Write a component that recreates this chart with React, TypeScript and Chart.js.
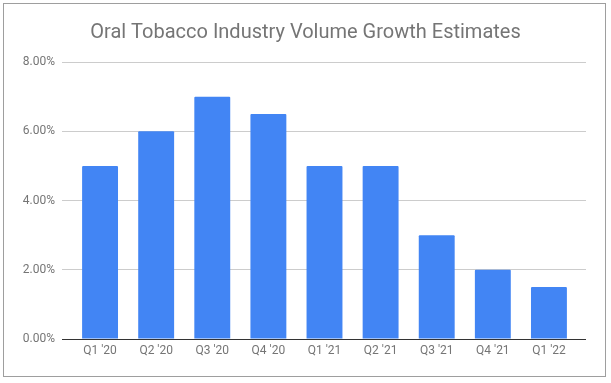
import React, { useEffect, useRef } from "react";
import { Chart, registerables } from "chart.js";

Chart.register(...registerables);

const categories = ["Q1 '20", "Q2 '20", "Q3 '20", "Q4 '20", "Q1 '21", "Q2 '21", "Q3 '21", "Q4 '21", "Q1 '22"];
const growthValues = [5, 6, 7, 6.5, 5, 5, 3, 2, 1.5];
const titleText = "Oral Tobacco Industry Volume Growth Estimates";

const gridColor = (ctx: any) => (ctx.tick && ctx.tick.value === 0 ? "#333333" : "#cccccc");

export default function App() {
  const ref = useRef<HTMLCanvasElement | null>(null);

  useEffect(() => {
    document.body.style.margin = "0";
    const canvas = ref.current;
    if (!canvas) return;
    const chart = new Chart(canvas, {
      type: "bar",
      data: {
        labels: categories,
        datasets: [
          {
            label: "Growth",
            data: growthValues,
            backgroundColor: "#4285F4",
            categoryPercentage: 0.64,
            barPercentage: 1,
            borderRadius: 1,
            yAxisID: "y",
          },
        ],
      },
      options: {
        animation: false,
        responsive: false,
        maintainAspectRatio: false,
        devicePixelRatio: 1,
        layout: { padding: { left: 0, right: 0, top: 0, bottom: 0 } },
        plugins: {
          legend: { display: false },
          tooltip: { enabled: false },
          title: {
            display: true,
            text: titleText,
            color: "#757575",
            font: { family: "Roboto", size: 20, weight: "normal" },
            padding: { top: 21, bottom: 17 },
          },
        },
        scales: {
          x: {
            grid: { display: false, drawTicks: false },
            border: { display: true, color: "#333333", width: 1 },
            ticks: {
              color: "#757575",
              font: { family: "Roboto", size: 12 },
              padding: 5,
              maxRotation: 0,
            },
            afterFit: (s: any) => {
              s.height = 44;
            },
          },
          y: {
            position: "left",
            min: 0,
            max: 8,
            grid: {
              drawTicks: true,
              tickLength: 10,
              color: gridColor,
            },
            border: { display: false },
            ticks: {
              stepSize: 2,
              color: "#757575",
              font: { family: "Roboto", size: 12 },
              padding: 7,
              callback: (v: any) => Number(v).toFixed(2) + "%",
            },
            afterFit: (s: any) => {
              s.width = 72;
            },
          },
          y2: {
            position: "right",
            min: 0,
            max: 8,
            grid: {
              drawOnChartArea: false,
              drawTicks: true,
              tickLength: 9,
              color: gridColor,
            },
            border: { display: false },
            ticks: {
              stepSize: 2,
              display: false,
            },
            afterFit: (s: any) => {
              s.width = 34;
            },
          },
        },
      },
    });
    return () => chart.destroy();
  }, []);

  return (
    <div style={{ position: "absolute", left: 0, top: 0, width: 611, height: 383, background: "#fff" }}>
      <canvas ref={ref} width={611} height={383} style={{ position: "absolute", left: 0, top: 0 }} />
      <div
        style={{
          position: "absolute",
          left: 3,
          top: 3,
          width: 603,
          height: 374,
          boxSizing: "border-box",
          border: "1px solid #9e9e9e",
          pointerEvents: "none",
        }}
      />
    </div>
  );
}
